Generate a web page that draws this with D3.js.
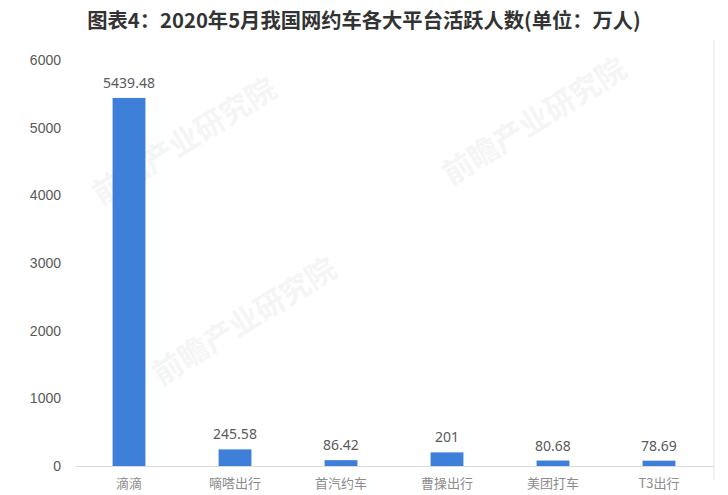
<!DOCTYPE html>
<html>
<head>
<meta charset="utf-8">
<script src="https://cdn.jsdelivr.net/npm/d3@7"></script>
<style>
  body { margin: 0; background: #fff; overflow: hidden; }
  svg { display: block; font-family: "Noto Sans", "Noto Sans CJK SC", sans-serif; }
</style>
</head>
<body>
<div id="chart"></div>
<script>
// data
var platforms = ["滴滴", "嘀嗒出行", "首汽约车", "曹操出行", "美团打车", "T3出行"];
var activeUsers = [5439.48, 245.58, 86.42, 201, 80.68, 78.69];
var valueLabels = ["5439.48", "245.58", "86.42", "201", "80.68", "78.69"];
var yTicks = [0, 1000, 2000, 3000, 4000, 5000, 6000];

var width = 728, height = 495;

var svg = d3.select("#chart").append("svg")
  .attr("width", width)
  .attr("height", height);

// faint watermarks
var marks = [[190, 150], [540, 130], [250, 330]];
marks.forEach(function(m) {
  svg.append("text")
    .attr("transform", "translate(" + m[0] + "," + m[1] + ") rotate(-32)")
    .attr("text-anchor", "middle")
    .attr("font-family", "Noto Sans CJK SC")
    .attr("font-weight", "bold")
    .attr("font-size", 30)
    .attr("fill", "#f5f5f5")
    .text("前瞻产业研究院");
});

// title
svg.append("text")
  .attr("x", 364)
  .attr("y", 28)
  .attr("text-anchor", "middle")
  .attr("font-family", "Noto Sans CJK SC")
  .attr("font-weight", "bold")
  .attr("font-size", 20.3)
  .attr("fill", "#333")
  .text("图表4：2020年5月我国网约车各大平台活跃人数(单位：万人)");

var x = d3.scaleBand()
  .domain(platforms)
  .range([76, 712])
  .paddingInner(0.69)
  .paddingOuter(0.345);

var y = d3.scaleLinear()
  .domain([0, 6000])
  .range([466, 60]);

// right frame line
svg.append("line")
  .attr("x1", 714).attr("x2", 714)
  .attr("y1", 40).attr("y2", 480)
  .attr("stroke", "#e6e6e6");

// y axis labels only
var yAxis = svg.append("g")
  .attr("transform", "translate(61,0)")
  .call(d3.axisLeft(y).tickValues(yTicks).tickSize(0).tickPadding(0).tickFormat(d3.format("d")));
yAxis.select(".domain").remove();
yAxis.selectAll("text")
  .attr("font-size", 14)
  .attr("fill", "#595959");

// bars
svg.selectAll("rect.bar")
  .data(activeUsers)
  .enter().append("rect")
  .attr("class", "bar")
  .attr("x", function(d, i) { return x(platforms[i]); })
  .attr("width", x.bandwidth())
  .attr("y", function(d) { return y(d); })
  .attr("height", function(d) { return y(0) - y(d); })
  .attr("fill", "#3d7fd9");

// baseline + category labels squeezed into the bottom strip
var xAxis = svg.append("g")
  .attr("transform", "translate(0," + y(0) + ")")
  .call(d3.axisBottom(x).tickSize(0).tickPadding(13));
xAxis.select(".domain")
  .attr("stroke", "#d9d9d9")
  .attr("d", "M76,0.5H714");
xAxis.selectAll("text")
  .attr("font-family", "Noto Sans CJK SC")
  .attr("font-size", 13)
  .attr("fill", "#8c8c8c");

// value labels
svg.selectAll("text.val")
  .data(activeUsers)
  .enter().append("text")
  .attr("class", "val")
  .attr("x", function(d, i) { return x(platforms[i]) + x.bandwidth() / 2; })
  .attr("y", function(d) { return y(d) - 10; })
  .attr("text-anchor", "middle")
  .attr("font-size", 14)
  .attr("fill", "#595959")
  .text(function(d, i) { return valueLabels[i]; });
</script>
</body>
</html>
